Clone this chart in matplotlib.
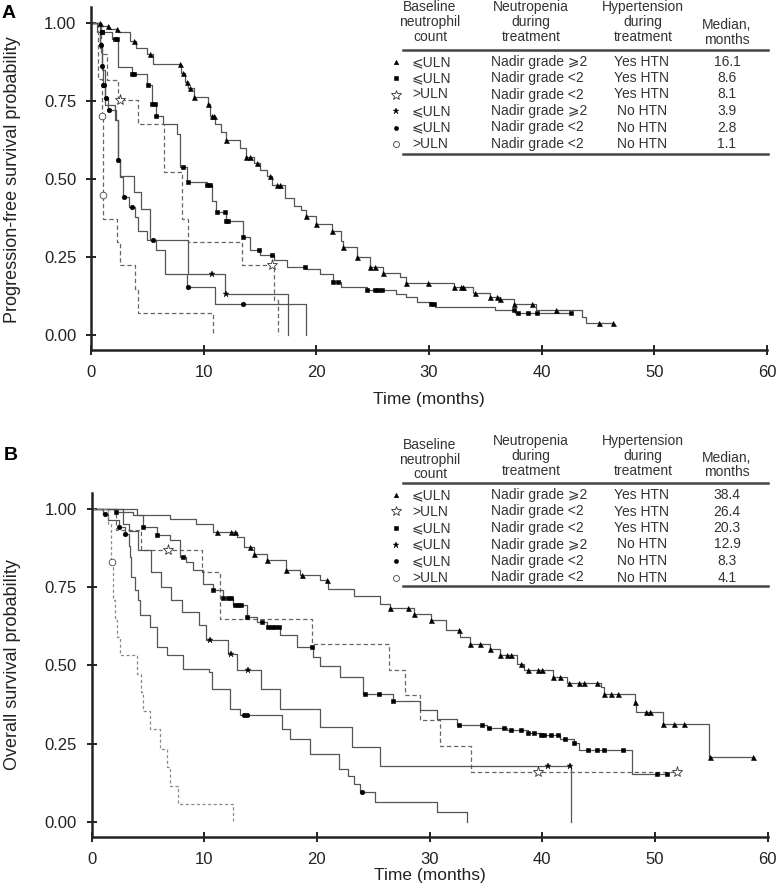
import numpy as np
import matplotlib
matplotlib.use("Agg")
import matplotlib.pyplot as plt
from matplotlib.lines import Line2D

plt.rcParams['font.family'] = ['Liberation Sans', 'DejaVu Sans']

W, H = 778, 892

# ---------------- Panel A: progression-free survival ----------------
tri_a_t = [0, 0.9, 1.6, 2.4, 3.5, 4.0, 5.0, 5.5, 8.0, 8.3, 8.6, 9.1, 10.4, 10.6, 11.0, 11.5, 12.0, 13.2, 13.8, 14.5,
           15.0, 15.6, 16.1, 17.2, 18.0, 18.6, 19.1, 20.0, 21.4, 22.2, 22.4, 23.6, 24.8, 25.9, 27.4, 28.0, 32.2, 33.9,
           35.4, 36.3, 37.5, 39.5, 43.6, 43.9, 46.3]
tri_a_s = [1.0, 0.99, 0.98, 0.97, 0.94, 0.92, 0.90, 0.868, 0.84, 0.81, 0.79, 0.762, 0.74, 0.70, 0.677, 0.65, 0.625,
           0.60, 0.57, 0.55, 0.53, 0.51, 0.48, 0.44, 0.415, 0.40, 0.383, 0.357, 0.335, 0.303, 0.282, 0.25, 0.22, 0.199,
           0.186, 0.167, 0.156, 0.135, 0.122, 0.117, 0.101, 0.082, 0.058, 0.039, 0.039]
tri_a_c = [0.8, 1.5, 2.3, 3.8, 5.2, 7.9, 8.2, 8.5, 8.8, 9.1, 10.4, 10.7, 10.9, 12.0, 13.8, 14.1, 14.7, 15.9, 16.5, 16.8,
           19.1, 20.0, 21.4, 22.4, 23.6, 24.8, 25.2, 25.9, 28.0, 29.9, 32.2, 32.8, 33.0, 34.1, 35.4, 36.0, 36.3, 37.5,
           39.1, 41.3, 45.1, 46.3]

sq_a_t = [0, 0.9, 1.9, 2.4, 3.6, 5.0, 5.4, 5.8, 6.4, 7.6, 7.9, 8.5, 10.3, 10.7, 11.1, 12.0, 13.5, 14.1, 15.0, 16.2,
          17.4, 19.1, 20.3, 21.5, 22.2, 24.5, 27.1, 28.0, 28.9, 30.2, 30.5, 35.9, 37.6, 42.6]
sq_a_s = [1.0, 0.97, 0.948, 0.857, 0.836, 0.80, 0.74, 0.70, 0.677, 0.644, 0.538, 0.49, 0.48, 0.431, 0.394, 0.367,
          0.314, 0.272, 0.256, 0.24, 0.219, 0.213, 0.197, 0.17, 0.154, 0.144, 0.133, 0.122, 0.106, 0.099, 0.091,
          0.082, 0.072, 0.072]
sq_a_c = [0.95, 1.0, 2.1, 2.3, 3.6, 3.8, 5.1, 5.4, 5.7, 5.8, 8.2, 8.6, 10.3, 10.6, 11.2, 11.9, 12.0, 12.2, 13.5, 14.9,
          16.1, 19.0, 21.5, 21.9, 24.5, 25.2, 25.5, 25.8, 30.2, 30.4, 37.5, 37.9, 38.8, 39.6, 42.6]

ostar_a_t = [0, 0.9, 1.4, 2.4, 4.2, 6.5, 8.05, 8.6, 13.4, 16.2, 16.6]
ostar_a_s = [1.0, 0.90, 0.815, 0.751, 0.676, 0.522, 0.373, 0.298, 0.224, 0.112, 0.0]
ostar_a_c = [2.6, 16.1]

fstar_a_t = [0, 0.8, 1.0, 1.2, 2.1, 2.4, 2.6, 3.8, 4.4, 5.2, 8.6, 11.9, 17.5]
fstar_a_s = [1.0, 0.92, 0.85, 0.735, 0.687, 0.56, 0.511, 0.458, 0.405, 0.304, 0.197, 0.133, 0.0]
fstar_a_c = [10.7, 12.0]

circ_a_t = [0, 0.5, 0.8, 1.0, 1.1, 1.2, 1.5, 2.2, 2.4, 2.6, 2.8, 3.4, 3.9, 4.2, 5.0, 5.8, 6.6, 8.5, 11.0, 19.1]
circ_a_s = [1.0, 0.97, 0.93, 0.86, 0.80, 0.76, 0.72, 0.69, 0.56, 0.506, 0.442, 0.41, 0.378, 0.335, 0.304, 0.272,
            0.197, 0.155, 0.101, 0.0]
circ_a_c = [0.9, 1.0, 1.1, 1.15, 1.3, 1.6, 2.4, 2.9, 3.6, 5.5, 8.6, 13.5]

ocirc_a_t = [0, 0.6, 1.0, 1.05, 1.1, 2.3, 2.6, 3.9, 4.2, 10.8]
ocirc_a_s = [1.0, 0.82, 0.70, 0.45, 0.373, 0.30, 0.224, 0.149, 0.071, 0.0]
ocirc_a_c = [1.0, 1.05]

# ---------------- Panel B: overall survival ----------------
tri_b_t = [0, 4.0, 7.0, 9.3, 10.8, 12.9, 13.5, 14.4, 15.6, 17.3, 18.5, 20.3, 21.0, 23.3, 25.6, 26.5, 28.6, 30.1,
           31.5, 32.7, 33.6, 35.4, 36.3, 37.8, 38.4, 41.0, 42.2, 45.2, 45.5, 48.2, 48.3, 50.7, 54.8, 58.8]
tri_b_s = [1.0, 0.979, 0.968, 0.952, 0.926, 0.91, 0.878, 0.857, 0.835, 0.803, 0.787, 0.771, 0.745, 0.723, 0.697,
           0.684, 0.665, 0.644, 0.612, 0.59, 0.569, 0.553, 0.532, 0.505, 0.484, 0.463, 0.444, 0.431, 0.41, 0.383,
           0.351, 0.314, 0.208, 0.208]
tri_b_c = [11.1, 12.4, 12.7, 14.1, 14.4, 15.6, 17.3, 18.7, 20.9, 26.5, 28.1, 28.6, 30.1, 32.6, 33.6, 34.5, 35.4,
           36.3, 36.9, 37.2, 38.1, 38.7, 39.6, 40.0, 41.0, 41.6, 42.4, 43.3, 43.7, 44.9, 45.5, 46.1, 46.7, 48.2,
           49.2, 49.6, 50.7, 51.7, 52.6, 54.9, 58.7]

ostar_b_t = [0, 2.2, 4.4, 9.8, 11.4, 19.6, 26.4, 27.8, 29.2, 30.9, 33.7, 52.0]
ostar_b_s = [1.0, 0.931, 0.867, 0.798, 0.649, 0.569, 0.486, 0.407, 0.325, 0.242, 0.16, 0.16]
ostar_b_c = [6.8, 39.6, 52.0]

sq_b_t = [0, 2.2, 3.7, 4.6, 5.8, 7.0, 7.85, 8.4, 9.0, 9.9, 10.8, 11.7, 12.6, 13.8, 14.7, 15.6, 16.7, 18.2, 19.7,
          20.3, 22.1, 24.1, 26.8, 29.2, 30.7, 32.4, 35.1, 36.9, 38.7, 39.9, 41.6, 42.8, 43.3, 48.0, 51.2]
sq_b_s = [1.0, 0.99, 0.979, 0.942, 0.915, 0.899, 0.846, 0.83, 0.803, 0.761, 0.74, 0.714, 0.692, 0.655, 0.639,
          0.622, 0.596, 0.558, 0.527, 0.499, 0.463, 0.41, 0.388, 0.357, 0.33, 0.309, 0.301, 0.293, 0.284, 0.277,
          0.266, 0.253, 0.229, 0.155, 0.155]
sq_b_c = [2.2, 4.6, 5.8, 8.1, 10.8, 11.7, 12.1, 12.4, 12.7, 13.0, 13.3, 13.8, 15.1, 15.7, 16.0, 16.3, 16.6, 19.6,
          24.3, 25.5, 26.8, 32.6, 34.7, 35.3, 36.6, 37.2, 38.1, 38.7, 39.3, 39.9, 40.2, 40.8, 41.4, 42.0, 42.8,
          44.1, 44.9, 45.5, 47.2, 50.2, 51.1]

fstar_b_t = [0, 2.8, 3.3, 4.15, 5.3, 6.2, 7.1, 8.0, 9.5, 10.2, 12.1, 12.9, 15.0, 16.7, 20.3, 23.1, 25.6, 42.6]
fstar_b_s = [1.0, 0.95, 0.93, 0.867, 0.798, 0.75, 0.708, 0.67, 0.628, 0.58, 0.538, 0.484, 0.426, 0.362, 0.303,
             0.239, 0.18, 0.0]
fstar_b_c = [10.5, 12.4, 13.9, 40.5, 42.5]

circ_b_t = [0, 1.0, 1.5, 2.4, 3.0, 3.3, 3.4, 3.55, 3.85, 4.15, 4.3, 5.2, 5.8, 6.7, 8.1, 10.4, 10.7, 12.3, 13.2,
            16.9, 17.6, 19.4, 22.0, 22.8, 23.3, 23.8, 25.2, 30.7, 33.3]
circ_b_s = [1.0, 0.984, 0.963, 0.942, 0.92, 0.88, 0.846, 0.782, 0.74, 0.708, 0.66, 0.622, 0.559, 0.532, 0.49,
            0.48, 0.426, 0.362, 0.341, 0.299, 0.267, 0.219, 0.171, 0.149, 0.123, 0.097, 0.065, 0.033, 0.0]
circ_b_c = [1.2, 2.4, 3.0, 13.5, 13.8, 24.0]

ocirc_b_t = [0, 1.5, 1.7, 1.9, 2.07, 2.22, 2.5, 4.0, 4.4, 4.6, 5.2, 6.1, 6.7, 7.0, 7.7, 12.6]
ocirc_b_s = [1.0, 0.952, 0.83, 0.708, 0.644, 0.59, 0.532, 0.474, 0.415, 0.356, 0.298, 0.234, 0.176, 0.117, 0.059, 0.0]
ocirc_b_c = [1.8]

# table contents
base_a = ['\u2a7dULN', '\u2a7dULN', '>ULN', '\u2a7dULN', '\u2a7dULN', '>ULN']
neut_a = ['Nadir grade \u2a7e2', 'Nadir grade <2', 'Nadir grade <2', 'Nadir grade \u2a7e2', 'Nadir grade <2', 'Nadir grade <2']
htn_a = ['Yes HTN', 'Yes HTN', 'Yes HTN', 'No HTN', 'No HTN', 'No HTN']
med_a = ['16.1', '8.6', '8.1', '3.9', '2.8', '1.1']
mk_a = ['tri', 'sq', 'ostar', 'fstar', 'circ', 'ocirc']

base_b = ['\u2a7dULN', '>ULN', '\u2a7dULN', '\u2a7dULN', '\u2a7dULN', '>ULN']
neut_b = ['Nadir grade \u2a7e2', 'Nadir grade <2', 'Nadir grade <2', 'Nadir grade \u2a7e2', 'Nadir grade <2', 'Nadir grade <2']
htn_b = ['Yes HTN', 'Yes HTN', 'Yes HTN', 'No HTN', 'No HTN', 'No HTN']
med_b = ['38.4', '26.4', '20.3', '12.9', '8.3', '4.1']
mk_b = ['tri', 'ostar', 'sq', 'fstar', 'circ', 'ocirc']

solid = dict(color='#555555', lw=0.9, ls='-')
dashed = dict(color='#666666', lw=0.9, ls=(0, (3.5, 2.2)))
dashed_light = dict(color='#8a8a8a', lw=0.9, ls=(0, (2.5, 2.0)))

marks = {
    'tri': dict(marker='^', ms=3.6, mfc='black', mec='black', mew=0.4),
    'sq': dict(marker='s', ms=3.3, mfc='black', mec='black', mew=0.4),
    'ostar': dict(marker='*', ms=8.0, mfc='white', mec='#333333', mew=0.6),
    'fstar': dict(marker='*', ms=5.0, mfc='black', mec='black', mew=0.3),
    'circ': dict(marker='o', ms=3.3, mfc='black', mec='black', mew=0.4),
    'ocirc': dict(marker='o', ms=4.8, mfc='white', mec='#444444', mew=0.6),
}


def km_at(t, times, surv):
    idx = np.searchsorted(times, t, side='right') - 1
    return np.asarray(surv)[np.clip(idx, 0, len(surv) - 1)]


def draw_curve(ax, times, surv, cens, kind, style):
    ax.step(times, surv, where='post', zorder=2, **style)
    if len(cens):
        ax.plot(cens, km_at(cens, times, surv), ls='none', zorder=3, **marks[kind])


def style_axes(ax):
    ax.set_xlim(0, 60)
    ax.set_ylim(-0.047, 1.05)
    ax.set_xticks(range(0, 61, 10))
    ax.set_yticks([0, 0.25, 0.5, 0.75, 1.0])
    ax.set_yticklabels(['0.00', '0.25', '0.50', '0.75', '1.00'])
    for s in ['top', 'right']:
        ax.spines[s].set_visible(False)
    for s in ['left', 'bottom']:
        ax.spines[s].set_linewidth(1.8)
        ax.spines[s].set_color('#222222')
    ax.tick_params(direction='inout', length=7, width=1.4, labelsize=12, colors='#222222', pad=7)


def draw_table(fig, top_rows, rows_y, rule_y, bottom_y, base, neut, htn, med, mk):
    fx = lambda x: x / W
    fy = lambda y: 1 - y / H
    kw = dict(fontsize=10, color='#333333', va='center')
    for (x, lines) in top_rows:
        for (y, s) in lines:
            fig.text(fx(x), fy(y), s, ha='center', **kw)
    fig.add_artist(Line2D([fx(403), fx(768)], [fy(rule_y), fy(rule_y)], color='#444444', lw=1.8,
                          transform=fig.transFigure))
    fig.add_artist(Line2D([fx(403), fx(768)], [fy(bottom_y), fy(bottom_y)], color='#444444', lw=1.8,
                          transform=fig.transFigure))
    for i, y in enumerate(rows_y):
        m = dict(marks[mk[i]])
        m['ms'] = m['ms'] * 0.9
        fig.add_artist(Line2D([fx(396)], [fy(y)], ls='none', transform=fig.transFigure, **m))
        fig.text(fx(412), fy(y), base[i], ha='left', **kw)
        fig.text(fx(491), fy(y), neut[i], ha='left', **kw)
        fig.text(fx(642), fy(y), htn[i], ha='center', **kw)
        fig.text(fx(727), fy(y), med[i], ha='center', **kw)


fig = plt.figure(figsize=(W / 100, H / 100), dpi=100)

# panel A
axA = fig.add_axes([91 / W, 1 - 350 / H, 676 / W, 343 / H])
draw_curve(axA, tri_a_t, tri_a_s, tri_a_c, 'tri', solid)
draw_curve(axA, sq_a_t, sq_a_s, sq_a_c, 'sq', solid)
draw_curve(axA, ostar_a_t, ostar_a_s, ostar_a_c, 'ostar', dashed)
draw_curve(axA, fstar_a_t, fstar_a_s, fstar_a_c, 'fstar', solid)
draw_curve(axA, circ_a_t, circ_a_s, circ_a_c, 'circ', solid)
draw_curve(axA, ocirc_a_t, ocirc_a_s, ocirc_a_c, 'ocirc', dashed)
style_axes(axA)
axA.set_xlabel('Time (months)', fontsize=12.5, color='#222222', labelpad=9)

# panel B
axB = fig.add_axes([91.5 / W, 1 - 837 / H, 676 / W, 344 / H])
draw_curve(axB, tri_b_t, tri_b_s, tri_b_c, 'tri', solid)
draw_curve(axB, ostar_b_t, ostar_b_s, ostar_b_c, 'ostar', dashed)
draw_curve(axB, sq_b_t, sq_b_s, sq_b_c, 'sq', solid)
draw_curve(axB, fstar_b_t, fstar_b_s, fstar_b_c, 'fstar', solid)
draw_curve(axB, circ_b_t, circ_b_s, circ_b_c, 'circ', solid)
draw_curve(axB, ocirc_b_t, ocirc_b_s, ocirc_b_c, 'ocirc', dashed_light)
style_axes(axB)
axB.set_xlabel('Time (months)', fontsize=12.5, color='#222222', labelpad=1)

# y labels
fig.text(13 / W, 1 - 180 / H, 'Progression-free survival probability', fontsize=13, color='#222222',
         rotation=90, ha='center', va='center')
fig.text(13 / W, 1 - 665 / H, 'Overall survival probability', fontsize=13, color='#222222',
         rotation=90, ha='center', va='center')

# panel letters
fig.text(9 / W, 1 - 14 / H, 'A', fontsize=14, fontweight='bold', ha='center', va='center')
fig.text(11 / W, 1 - 455 / H, 'B', fontsize=14, fontweight='bold', ha='center', va='center')

# tables
draw_table(fig,
           [(430, [(7, 'Baseline'), (22, 'neutrophil'), (37, 'count')]),
            (531, [(7, 'Neutropenia'), (22, 'during'), (37, 'treatment')]),
            (643, [(7, 'Hypertension'), (22, 'during'), (37, 'treatment')]),
            (727, [(25, 'Median,'), (40, 'months')])],
           [62, 78, 94.5, 111, 127.5, 144], 50, 154,
           base_a, neut_a, htn_a, med_a, mk_a)
draw_table(fig,
           [(430, [(445, 'Baseline'), (460, 'neutrophil'), (474, 'count')]),
            (531, [(441, 'Neutropenia'), (456, 'during'), (471, 'treatment')]),
            (643, [(441, 'Hypertension'), (456, 'during'), (471, 'treatment')]),
            (727, [(458, 'Median,'), (472, 'months')])],
           [495, 511.5, 528, 544.5, 561, 577.5], 483, 586,
           base_b, neut_b, htn_b, med_b, mk_b)

fig.savefig('out.png', dpi=100)
